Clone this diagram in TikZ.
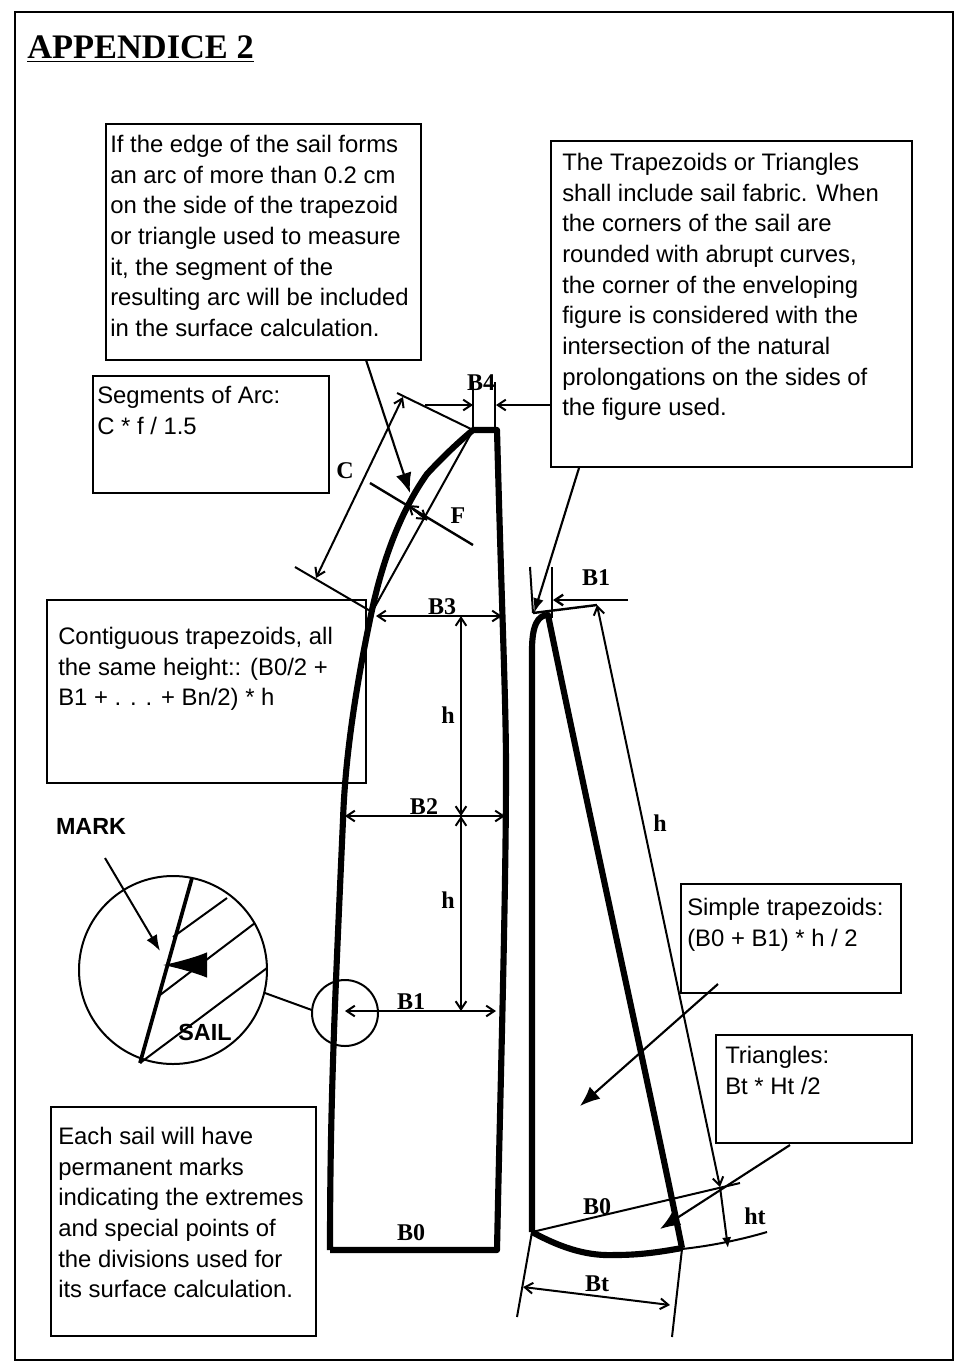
\documentclass[tikz,border=0pt]{standalone}
\usepackage{fontspec}
\setmainfont{Liberation Sans}
\newfontfamily\labelfont{Liberation Serif}
\usetikzlibrary{arrows.meta}
\tikzset{
  frameBox/.style={draw, rectangle, line width=1.6pt, anchor=north west, inner sep=0pt, outer sep=0pt},
  noteText/.style={anchor=north west, align=left, inner sep=0pt, font=\fontsize{17.9}{23}\selectfont},
  dimLabel/.style={inner sep=0pt, font=\labelfont\bfseries\fontsize{18}{20}\selectfont},
  dimLine/.style={line width=1.5pt},
  dimArrow/.style={line width=1.5pt, {Straight Barb[length=6pt,width=8pt]}-{Straight Barb[length=6pt,width=8pt]}},
  oneArrow/.style={line width=1.5pt, -{Straight Barb[length=6pt,width=8pt]}},
  bigArrow/.style={line width=1.6pt, -{Latex[length=15pt,width=12pt]}},
  sailLine/.style={line width=4.6pt, line join=round},
  thinSail/.style={line width=2.8pt}
}
\begin{document}
\begin{tikzpicture}[x=0.75pt, y=-0.75pt]
\useasboundingbox (0,0) rectangle (960,1368);
\draw[line width=2pt] (15,12) rectangle (953,1360);

% title
\node[anchor=west, inner sep=0pt, font=\labelfont\bfseries\fontsize{25.8}{28}\selectfont] (Title) at (27,49) {\underline{APPENDICE 2}};

% boxes with notes
\node[frameBox, minimum width=236.25pt, minimum height=177pt] (ArcBox) at (106,124) {};
\node[noteText] (ArcText) at (110,135) {If the edge of the sail forms\\an arc of more than 0.2 cm\\on the side of the trapezoid\\or triangle used to measure\\it, the segment of the\\resulting arc will be included\\in the surface calculation.};
\node[frameBox, minimum width=270.75pt, minimum height=244.5pt] (FabricBox) at (551,141) {};
\node[noteText] (FabricText) at (562,153) {The Trapezoids or Triangles\\shall include sail fabric. When\\the corners of the sail are\\rounded with abrupt curves,\\the corner of the enveloping\\figure is considered with the\\intersection of the natural\\prolongations on the sides of\\the figure used.};
\node[frameBox, minimum width=177pt, minimum height=87.75pt] (SegmentBox) at (93,376) {};
\node[noteText] (SegmentText) at (97,386) {Segments of Arc:\\ C * f / 1.5};
\node[frameBox, minimum width=239.25pt, minimum height=137.25pt] (ContigBox) at (47,600) {};
\node[noteText] (ContigText) at (58,627) {Contiguous trapezoids, all\\the same height:: (B0/2 +\\B1 + . . . + Bn/2) * h};
\node[frameBox, minimum width=165pt, minimum height=81.75pt] (SimpleBox) at (681,884) {};
\node[noteText] (SimpleText) at (687,898) {Simple trapezoids:\\(B0 + B1) * h / 2};
\node[frameBox, minimum width=147pt, minimum height=81pt] (TriangleBox) at (716,1035) {};
\node[noteText] (TriangleText) at (725,1046) {Triangles:\\Bt * Ht /2};
\node[frameBox, minimum width=198.75pt, minimum height=171.75pt] (EachBox) at (51,1107) {};
\node[noteText] (EachText) at (58,1127) {Each sail will have\\permanent marks\\indicating the extremes\\and special points of\\the divisions used for\\its surface calculation.};

% left sail
\draw[sailLine] (330,1250) -- (497,1250) .. controls (500,1100) and (506,900) .. (506,770) .. controls (506,700) and (502,620) .. (497,430) -- (473,430)
  .. controls (455,445) and (440,460) .. (427,474) .. controls (405,505) and (385,550) .. (372,610)
  .. controls (355,690) and (345,760) .. (343,820) .. controls (335,1000) and (330,1100) .. (330,1250);

% points on the left sail
\coordinate (HeadLeft) at (473,430);
\coordinate (HeadRight) at (495,430);
\coordinate (ChordLow) at (372,612);
\coordinate (CTop) at (403,397);
\coordinate (CLow) at (316,578);
\coordinate (TickTop) at (397,393);
\coordinate (TickLow) at (295,567);
\coordinate (FLeft) at (370,483);
\coordinate (FRight) at (473,545);
\coordinate (FA) at (408,505);
\coordinate (FB) at (427,520);
\coordinate (B3Left) at (376,616);
\coordinate (B3Right) at (502,616);
\coordinate (B3Mid) at (461,616);
\coordinate (B2Left) at (345,816);
\coordinate (B2Right) at (505,816);
\coordinate (B2Mid) at (461,816);
\coordinate (B1Left) at (345,1011);
\coordinate (B1Right) at (496,1011);
\coordinate (B1Mid) at (461,1011);
\coordinate (B4Left) at (473,405);
\coordinate (B4Right) at (496,405);
\coordinate (B4LeftTop) at (473,382);
\coordinate (B4RightTop) at (495,382);
\coordinate (B4LeftEnd) at (425,405);
\coordinate (B4RightEnd) at (551,405);
\coordinate (ArcStart) at (366,360);
\coordinate (ArcTip) at (410,493);
\draw[dimLine] (HeadLeft) -- (ChordLow);
\draw[dimLine] (TickTop) -- (HeadLeft);
\draw[dimLine] (TickLow) -- (ChordLow);
\draw[dimArrow] (CTop) -- (CLow);
\draw[dimLine, line width=1.8pt] (FLeft) -- (FRight);
\draw[oneArrow] (FB) -- (FA);
\draw[oneArrow] (FA) -- (FB);
\draw[dimLine] (B4LeftTop) -- (HeadLeft);
\draw[dimLine] (B4RightTop) -- (HeadRight);
\draw[oneArrow] (B4LeftEnd) -- (B4Left);
\draw[oneArrow] (B4RightEnd) -- (B4Right);
\draw[bigArrow] (ArcStart) -- (ArcTip);
\draw[dimArrow] (B3Left) -- (B3Right);
\draw[dimArrow] (B2Left) -- (B2Right);
\draw[dimArrow] (B1Left) -- (B1Right);
\draw[dimArrow] (B3Mid) -- (B2Mid);
\draw[dimArrow] (B2Mid) -- (B1Mid);

\node[dimLabel] (LabelBFour) at (481,383) {B4};
\node[dimLabel] (LabelC) at (345,471) {C};
\node[dimLabel] (LabelF) at (458,516) {F};
\node[dimLabel] (LabelBThree) at (442,607) {B3};
\node[dimLabel] (LabelHOne) at (448,715) {h};
\node[dimLabel] (LabelBTwo) at (424,807) {B2};
\node[dimLabel] (LabelHTwo) at (448,900) {h};
\node[dimLabel] (LabelBOne) at (411,1002) {B1};
\node[dimLabel] (LabelBZero) at (411,1233) {B0};

% detail of the mark
\node[draw, circle, line width=1.5pt, minimum size=141pt, inner sep=0pt, outer sep=0pt] (BigCircle) at (173,970) {};
\node[draw, circle, line width=1.5pt, minimum size=49.5pt, inner sep=0pt, outer sep=0pt] (SmallCircle) at (345,1013) {};
\draw[dimLine] (BigCircle.-14) -- (SmallCircle.175);
\coordinate (LuffTop) at (192,878);
\coordinate (LuffLow) at (140,1063);
\coordinate (HatchOneA) at (227,898);
\coordinate (HatchOneB) at (173,937);
\coordinate (HatchTwoA) at (255,923);
\coordinate (HatchTwoB) at (160,995);
\coordinate (HatchThreeA) at (267,968);
\coordinate (MarkStart) at (105,858);
\coordinate (MarkTip) at (160,951);
\coordinate (MarkBase) at (207,965);
\coordinate (MarkPoint) at (163,965);
\draw[thinSail] (LuffTop) -- (LuffLow);
\draw[dimLine] (HatchOneA) -- (HatchOneB);
\draw[dimLine] (HatchTwoA) -- (HatchTwoB);
\draw[dimLine] (HatchThreeA) -- (LuffLow);
\draw[oneArrow, -{Latex[length=12pt,width=9pt]}] (MarkStart) -- (MarkTip);
\draw[line width=1pt, -{Latex[length=33pt,width=19pt]}] (MarkBase) -- (MarkPoint);
\node[inner sep=0pt, font=\bfseries\fontsize{17.5}{19}\selectfont] (LabelMark) at (91,826) {MARK};
\node[inner sep=0pt, font=\bfseries\fontsize{17.5}{19}\selectfont] (LabelSail) at (205,1032) {SAIL};

% right sail
\draw[sailLine] (532,1232) -- (532,650) .. controls (532,625) and (538,615) .. (548,615)
  .. controls (590,820) and (650,1090) .. (682,1248);
\draw[sailLine] (532,1232) .. controls (565,1250) and (590,1256) .. (615,1255) .. controls (640,1255) and (660,1252) .. (682,1248);

\coordinate (TopLeft) at (533,613);
\coordinate (TopChord) at (597,605);
\coordinate (GuideLeftTop) at (530,567);
\coordinate (GuideRightTop) at (552,567);
\coordinate (GuideRightLow) at (552,618);
\coordinate (BOneEnd) at (628,600);
\coordinate (BOneTip) at (553,600);
\coordinate (FabricStart) at (579,468);
\coordinate (FabricTip) at (534,613);
\coordinate (SimpleStart) at (718,984);
\coordinate (SimpleTip) at (580,1106);
\coordinate (ApexTop) at (720,1187);
\coordinate (ClewRight) at (682,1249);
\coordinate (TackLeft) at (532,1232);
\coordinate (BZeroEnd) at (740,1183);
\coordinate (HtTip) at (728,1248);
\coordinate (LowEnd) at (767,1232);
\coordinate (TriStart) at (790,1145);
\coordinate (TriTip) at (660,1229);
\coordinate (BtLeft) at (523,1287);
\coordinate (BtRight) at (670,1305);
\coordinate (TickLeftEnd) at (517,1317);
\coordinate (TickRightEnd) at (672,1337);
\draw[dimLine] (GuideLeftTop) -- (TopLeft);
\draw[dimLine] (GuideRightTop) -- (GuideRightLow);
\draw[oneArrow, line width=1.8pt] (BOneEnd) -- (BOneTip);
\draw[dimLine, line width=1.8pt] (TopLeft) -- (TopChord);
\draw[line width=1.6pt, -{Latex[length=11pt,width=8pt]}] (FabricStart) -- (FabricTip);
\draw[dimArrow] (TopChord) -- (ApexTop);
\draw[bigArrow] (SimpleStart) -- (SimpleTip);
\draw[dimLine] (TackLeft) -- (BZeroEnd);
\draw[dimLine] (ClewRight) .. controls (710,1246) and (740,1240) .. (LowEnd);
\draw[dimLine, -{Latex[length=8pt,width=7pt]}] (ApexTop) -- (HtTip);
\draw[bigArrow] (TriStart) -- (TriTip);
\draw[dimLine] (TackLeft) -- (TickLeftEnd);
\draw[dimLine] (ClewRight) -- (TickRightEnd);
\draw[dimArrow] (BtLeft) -- (BtRight);

\node[dimLabel] (LabelTopBOne) at (596,578) {B1};
\node[dimLabel] (LabelTopH) at (660,823) {h};
\node[dimLabel] (LabelLowBZero) at (597,1207) {B0};
\node[dimLabel] (LabelHt) at (755,1216) {ht};
\node[dimLabel] (LabelBt) at (597,1284) {Bt};
\end{tikzpicture}
\end{document}
